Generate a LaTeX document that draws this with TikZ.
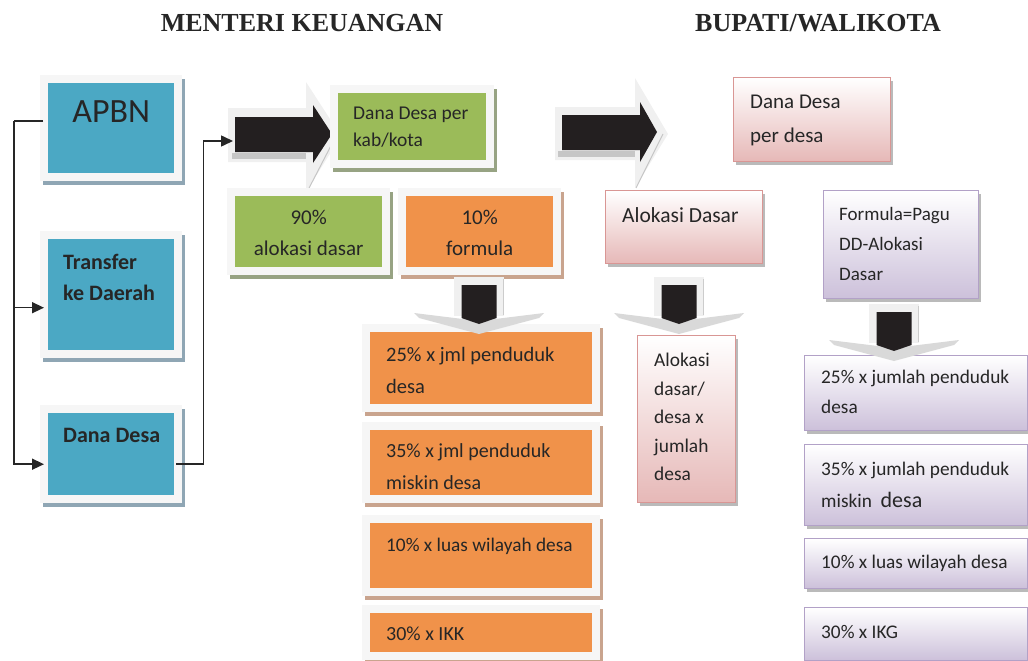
\documentclass[tikz,border=0pt]{standalone}
\usepackage{fontspec}
\setmainfont{Carlito}
\newfontfamily\headfont{Liberation Serif}
\usetikzlibrary{arrows.meta,shadows}

\definecolor{tealc}{HTML}{4BA8C4}
\definecolor{tealsh}{HTML}{8FA6B4}
\definecolor{greenc}{HTML}{9BBB59}
\definecolor{greensh}{HTML}{97A383}
\definecolor{orangec}{HTML}{F0924A}
\definecolor{orangesh}{HTML}{C9A48E}
\definecolor{pinkfill}{HTML}{E6B8B7}
\definecolor{pinkline}{HTML}{D99694}
\definecolor{lilacfill}{HTML}{CCC0DA}
\definecolor{lilacline}{HTML}{B2A1C7}
\definecolor{arrowblk}{HTML}{231F20}

\begin{document}
\begin{tikzpicture}[x=1pt,y=-1pt,
  framebox/.style 2 args={anchor=north west, inner sep=0pt, fill=gray!7,
    drop shadow={shadow xshift=2.5pt, shadow yshift=-3.5pt, fill=#2, opacity=1},
    path picture={\fill[#1] ([shift={(8pt,-8pt)}]path picture bounding box.north west)
      rectangle ([shift={(-8pt,8pt)}]path picture bounding box.south east);}},
  tealbox/.style={framebox={tealc}{tealsh}},
  greenbox/.style={framebox={greenc}{greensh}},
  orangebox/.style={framebox={orangec}{orangesh}},
  glossbox/.style 2 args={anchor=north west, inner sep=0pt, draw=#1, line width=1.4pt,
    top color=white, bottom color=#2,
    drop shadow={shadow xshift=2.5pt, shadow yshift=-3.5pt, fill=black!45, opacity=.6}},
  pinkbox/.style={glossbox={pinkline}{pinkfill}},
  lilacbox/.style={glossbox={lilacline}{lilacfill}},
  tx/.style={inner sep=0pt, align=left, text=black!85, font=\fontsize{20}{32}\selectfont},
  conn/.style={draw=black!85, line width=1.5pt},
  tip/.style={-{Triangle[length=12pt,width=11pt]}},
  rim/.style={fill=gray!12},
  blk/.style={fill=arrowblk},
  head/.style={font=\headfont\bfseries\fontsize{26}{30}\selectfont, text=black!85, anchor=base}
]
\useasboundingbox (0,0) rectangle (1028,661);

% headings
\node[head] (menkeu) at (302,32) {MENTERI KEUANGAN};
\node[head] (bupati) at (818,32) {BUPATI/WALIKOTA};

% big arrows
\fill[rim] (228,108) -- (306,108) -- (306,82) -- (341,136) -- (306,192) -- (306,162) -- (228,162) -- cycle;
\fill[gray!45] (232,153) rectangle (306,159);
\draw[gray!45, line width=1pt] (336,136) -- (307,192);
\fill[blk] (235,117) -- (313,117) -- (313,105) -- (332,134) -- (313,163) -- (313,152) -- (235,152) -- cycle;

\fill[rim] (555,107) -- (635,107) -- (635,78) -- (668,134) -- (635,188) -- (635,160) -- (555,160) -- cycle;
\fill[gray!45] (558,151) rectangle (635,157);
\draw[gray!45, line width=1pt] (663,134) -- (636,188);
\fill[blk] (562,115) -- (640,115) -- (640,102) -- (657,132) -- (640,162) -- (640,150) -- (562,150) -- cycle;

% left column
\node[tealbox, minimum width=142, minimum height=106,
  label={[tx, anchor=north, yshift=-25pt, font=\fontsize{34}{36}\selectfont]north:APBN}] (apbn) at (40,75) {};
\node[tealbox, minimum width=142, minimum height=127,
  label={[tx, anchor=north west, xshift=23pt, yshift=-23pt, font=\bfseries\fontsize{22}{31}\selectfont]north west:Transfer\\ke Daerah}] (transfer) at (40,231) {};
\node[tealbox, minimum width=142, minimum height=98,
  label={[tx, anchor=north west, xshift=23pt, yshift=-23pt, font=\bfseries\fontsize{22}{31}\selectfont]north west:Dana Desa}] (danadesa) at (40,405) {};

% menteri keuangan
\node[greenbox, minimum width=164, minimum height=83,
  label={[tx, anchor=north west, xshift=23pt, yshift=-22pt, font=\fontsize{19.5}{27}\selectfont]north west:Dana Desa per\\kab/kota}] (kabkota) at (330,85) {};
\node[greenbox, minimum width=163, minimum height=87,
  label={[tx, align=center, anchor=north, yshift=-22pt, font=\fontsize{21}{31}\selectfont]north:90\%\\alokasi dasar}] (ninety) at (227,188) {};
\node[orangebox, minimum width=163, minimum height=87,
  label={[tx, align=center, anchor=north, yshift=-22pt, font=\fontsize{21}{31}\selectfont]north:10\%\\formula}] (ten) at (398,188) {};
\node[orangebox, minimum width=238, minimum height=88,
  label={[tx, anchor=north west, xshift=24pt, yshift=-23pt, font=\fontsize{20.5}{32}\selectfont]north west:25\% x jml penduduk\\desa}] (ora) at (362,324) {};
\node[orangebox, minimum width=238, minimum height=81,
  label={[tx, anchor=north west, xshift=24pt, yshift=-21pt, font=\fontsize{20}{32}\selectfont]north west:35\% x jml penduduk\\miskin desa}] (orb) at (362,422) {};
\node[orangebox, minimum width=238, minimum height=81,
  label={[tx, anchor=north west, xshift=24pt, yshift=-23pt, font=\fontsize{19.3}{30}\selectfont]north west:10\% x luas wilayah desa}] (orc) at (362,515) {};
\node[orangebox, minimum width=238, minimum height=55,
  label={[tx, anchor=north west, xshift=24pt, yshift=-22pt]north west:30\% x IKK}] (ord) at (362,605) {};

% bupati / walikota
\node[pinkbox, minimum width=157, minimum height=84,
  label={[tx, anchor=north west, xshift=17pt, yshift=-18pt, font=\fontsize{21}{34}\selectfont]north west:Dana Desa\\per desa}] (perdesa) at (733,77) {};
\node[pinkbox, minimum width=157, minimum height=73,
  label={[tx, anchor=north west, xshift=17pt, yshift=-17pt, font=\fontsize{21.5}{30}\selectfont]north west:Alokasi Dasar}] (aldas) at (605,190) {};
\node[pinkbox, minimum width=98, minimum height=167,
  label={[tx, anchor=north west, xshift=17pt, yshift=-18pt, font=\fontsize{19.4}{28.5}\selectfont]north west:Alokasi\\dasar/\\desa x\\jumlah\\desa}] (alrinci) at (637,335) {};
\node[lilacbox, minimum width=155, minimum height=108,
  label={[tx, anchor=north west, xshift=16pt, yshift=-17pt, font=\fontsize{19}{30}\selectfont]north west:Formula=Pagu\\DD-Alokasi\\Dasar}] (pagu) at (823,190) {};
\node[lilacbox, minimum width=223, minimum height=75,
  label={[tx, anchor=north west, xshift=17pt, yshift=-15pt, font=\fontsize{19.3}{30}\selectfont]north west:25\% x jumlah penduduk\\desa}] (lia) at (804,355) {};
\node[lilacbox, minimum width=223, minimum height=81,
  label={[tx, anchor=north west, xshift=17pt, yshift=-18pt, font=\fontsize{19.3}{32}\selectfont]north west:35\% x jumlah penduduk\\miskin\ \ {\fontsize{22}{32}\selectfont desa}}] (lib) at (804,444) {};
\node[lilacbox, minimum width=223, minimum height=50,
  label={[tx, anchor=north west, xshift=17pt, yshift=-17pt, font=\fontsize{19.3}{30}\selectfont]north west:10\% x luas wilayah desa}] (lic) at (804,538) {};
\node[lilacbox, minimum width=223, minimum height=53,
  label={[tx, anchor=north west, xshift=17pt, yshift=-18pt, font=\fontsize{19.3}{30}\selectfont]north west:30\% x IKG}] (lid) at (804,607) {};

% down arrows
\foreach \cx/\ty in {479/285, 679/285, 894/312}{
  \begin{scope}[shift={(\cx,\ty)}]
  \fill[rim] (-25,-8) rectangle (25,31);
  \draw[gray!40, line width=1pt] (24,-6) -- (24,30);
  \fill[gray!30] (-65,28) -- (0,36) -- (65,28) -- (60,33) -- (0,49) -- (-60,33) -- cycle;
  \fill[blk] (-17.5,0) -- (17.5,0) -- (17.5,33) -- (0,39) -- (-17.5,33) -- cycle;
  \end{scope}
}

% connectors
\coordinate (bus) at ([xshift=-26pt,yshift=7pt]apbn.west);
\coordinate (trin) at ([xshift=4pt,yshift=-13pt]transfer.west);
\coordinate (ddin) at ([xshift=4pt,yshift=-10pt]danadesa.west);
\coordinate (ddout) at ([xshift=-6pt,yshift=-10pt]danadesa.east);
\coordinate (bigin) at (233,141);
\draw[conn] ([xshift=3pt]apbn.west |- bus) -- (bus);
\draw[conn, tip] (bus) |- (ddin);
\draw[conn, tip] (bus |- trin) -- (trin);
\draw[conn, tip] (ddout) -- ++(27,0) |- (bigin);

\end{tikzpicture}
\end{document}
